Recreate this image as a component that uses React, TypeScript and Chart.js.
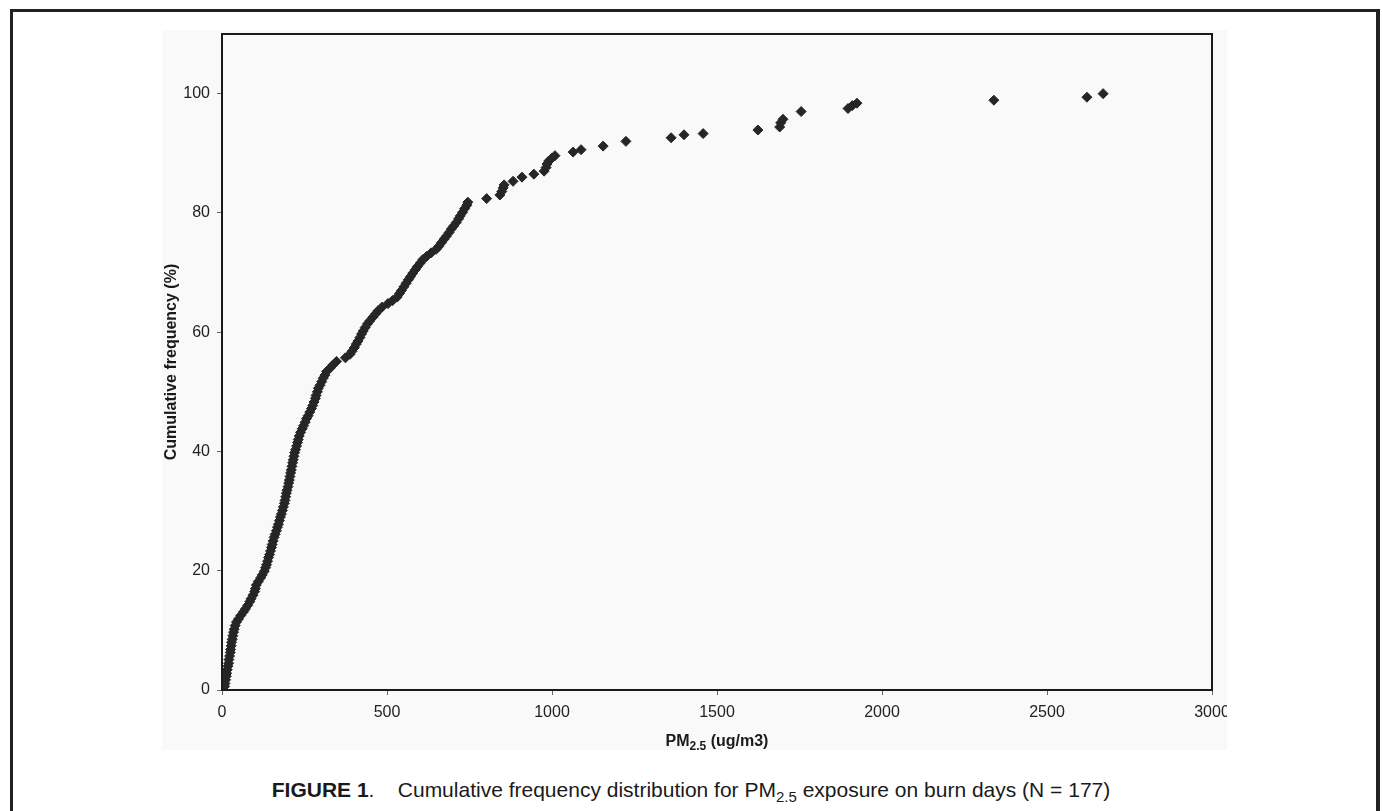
import React, { useEffect, useRef } from "react";
import { Chart, registerables } from "chart.js";

Chart.register(...registerables);

// PM2.5 exposure (ug/m3), sorted ascending
const pmValues: number[] = [
  2, 8, 9, 11, 13, 14, 16, 18, 20, 21,
  23, 25, 26, 28, 29, 31, 33, 35, 37, 40,
  44, 50, 57, 65, 71, 78, 84, 88, 94, 99,
  101, 104, 110, 117, 122, 128, 132, 135, 138, 141,
  144, 147, 150, 152, 155, 158, 161, 165, 168, 171,
  174, 177, 180, 183, 186, 189, 191, 193, 195, 197,
  200, 202, 204, 206, 208, 210, 212, 214, 216, 218,
  220, 223, 226, 229, 231, 234, 238, 243, 247, 252,
  256, 261, 266, 271, 275, 279, 283, 285, 289, 292,
  297, 302, 307, 312, 317, 328, 336, 347, 374, 388,
  394, 401, 407, 412, 418, 423, 428, 434, 441, 448,
  457, 466, 473, 485, 503, 517, 531, 538, 544, 551,
  558, 565, 571, 578, 586, 592, 601, 609, 620, 634,
  649, 657, 665, 673, 680, 688, 695, 702, 710, 717,
  722, 729, 735, 742, 745,
  802, 842, 848, 852, 855, 882, 909, 945, 976, 982,
  985, 990, 1000, 1009, 1064, 1088, 1155, 1224, 1361, 1400,
  1458, 1624, 1690, 1693, 1700, 1755, 1897, 1910, 1924, 2339,
  2621, 2670,
];

// Cumulative frequency (%)
const cumFreq: number[] = [
  0, 0.6, 1.1, 1.7, 2.3, 2.8, 3.4, 4.0, 4.5, 5.1,
  5.7, 6.3, 6.8, 7.4, 8.0, 8.5, 9.1, 9.7, 10.2, 10.8,
  11.4, 11.9, 12.5, 13.1, 13.6, 14.2, 14.8, 15.3, 15.9, 16.5,
  17.0, 17.6, 18.2, 18.8, 19.3, 19.9, 20.5, 21.0, 21.6, 22.2,
  22.7, 23.3, 23.9, 24.4, 25.0, 25.6, 26.1, 26.7, 27.3, 27.8,
  28.4, 29.0, 29.5, 30.1, 30.7, 31.3, 31.8, 32.4, 33.0, 33.5,
  34.1, 34.7, 35.2, 35.8, 36.4, 36.9, 37.5, 38.1, 38.6, 39.2,
  39.8, 40.3, 40.9, 41.5, 42.0, 42.6, 43.2, 43.8, 44.3, 44.9,
  45.5, 46.0, 46.6, 47.2, 47.7, 48.3, 48.9, 49.4, 50.0, 50.6,
  51.1, 51.7, 52.3, 52.8, 53.4, 54.0, 54.5, 55.1, 55.7, 56.3,
  56.8, 57.4, 58.0, 58.5, 59.1, 59.7, 60.2, 60.8, 61.4, 61.9,
  62.5, 63.1, 63.6, 64.2, 64.8, 65.3, 65.9, 66.5, 67.0, 67.6,
  68.2, 68.8, 69.3, 69.9, 70.5, 71.0, 71.6, 72.2, 72.7, 73.3,
  73.9, 74.4, 75.0, 75.6, 76.1, 76.7, 77.3, 77.8, 78.4, 79.0,
  79.5, 80.1, 80.7, 81.3, 81.8,
  82.4, 83.0, 83.6, 84.2, 84.7, 85.3, 86.0, 86.5, 87.0, 87.6,
  88.2, 88.7, 89.2, 89.6, 90.2, 90.6, 91.2, 92.0, 92.6, 93.1,
  93.3, 93.9, 94.4, 95.1, 95.7, 97.0, 97.5, 98.0, 98.4, 98.9,
  99.4, 100,
];

const xTickValues: number[] = [0, 500, 1000, 1500, 2000, 2500, 3000];
const yTickValues: number[] = [0, 20, 40, 60, 80, 100];

const FONT = "'Liberation Sans', Arial, Helvetica, sans-serif";

const framePlugin = {
  id: "plotFrame",
  afterDatasetsDraw(chart: any) {
    const { ctx, chartArea } = chart;
    ctx.save();
    ctx.strokeStyle = "#1a1a1a";
    ctx.lineWidth = 2;
    ctx.strokeRect(chartArea.left, chartArea.top, chartArea.right - chartArea.left, chartArea.bottom - chartArea.top);
    ctx.restore();
  },
};

const xTitlePlugin = {
  id: "xTitleSub",
  afterDraw(chart: any) {
    const { ctx, chartArea } = chart;
    const big = `bold 16px ${FONT}`;
    const small = `bold 12px ${FONT}`;
    const parts = [
      { t: "PM", f: big, dy: 0 },
      { t: "2.5", f: small, dy: 4 },
      { t: " (ug/m3)", f: big, dy: 0 },
    ];
    ctx.save();
    let total = 0;
    const widths = parts.map((p) => {
      ctx.font = p.f;
      const w = ctx.measureText(p.t).width;
      total += w;
      return w;
    });
    let x = (chartArea.left + chartArea.right) / 2 - total / 2;
    const baseY = chartArea.bottom + 56;
    ctx.fillStyle = "#1a1a1a";
    ctx.textBaseline = "alphabetic";
    ctx.textAlign = "left";
    parts.forEach((p, i) => {
      ctx.font = p.f;
      ctx.fillText(p.t, x, baseY + p.dy);
      x += widths[i];
    });
    ctx.restore();
  },
};

function ChartPanel() {
  const ref = useRef<HTMLCanvasElement | null>(null);
  useEffect(() => {
    if (!ref.current) return;
    const points = pmValues.map((x, i) => ({ x, y: cumFreq[i] }));
    const chart = new Chart(ref.current, {
      type: "scatter",
      data: {
        datasets: [
          {
            label: "Cumulative frequency",
            data: points,
            pointStyle: "rectRot",
            pointRadius: 5,
            borderWidth: 1,
            backgroundColor: "#262626",
            borderColor: "#262626",
          },
        ],
      },
      options: {
        animation: false,
        responsive: false,
        maintainAspectRatio: false,
        layout: { padding: { top: 0, right: 15, left: 0, bottom: 0 } },
        plugins: {
          legend: { display: false },
          tooltip: { enabled: false },
        },
        scales: {
          x: {
            type: "linear",
            min: 0,
            max: 3000,
            afterBuildTicks: (scale: any) => {
              scale.ticks = xTickValues.map((v) => ({ value: v }));
            },
            afterFit: (scale: any) => {
              scale.height = 60;
              scale.paddingLeft = 0;
              scale.paddingRight = 0;
            },
            ticks: {
              font: { family: FONT, size: 16 },
              color: "#222",
              padding: 8,
              maxRotation: 0,
              callback: (v: any) => String(v),
            },
            grid: {
              display: true,
              drawOnChartArea: false,
              drawTicks: true,
              tickLength: 5,
              color: "#666",
            },
            border: { display: true, color: "#1a1a1a", width: 2 },
          },
          y: {
            type: "linear",
            min: 0,
            max: 110,
            afterBuildTicks: (scale: any) => {
              scale.ticks = yTickValues.map((v) => ({ value: v }));
            },
            afterFit: (scale: any) => {
              scale.width = 60;
              scale.paddingTop = 0;
              scale.paddingBottom = 0;
            },
            ticks: {
              font: { family: FONT, size: 16 },
              color: "#222",
              padding: 7,
              callback: (v: any) => String(v),
            },
            grid: {
              display: true,
              drawOnChartArea: false,
              drawTicks: true,
              tickLength: 5,
              color: "#666",
            },
            border: { display: true, color: "#1a1a1a", width: 2 },
            title: {
              display: true,
              text: "Cumulative frequency (%)",
              font: { family: FONT, size: 16, weight: "bold" },
              color: "#1a1a1a",
              padding: 0,
            },
          },
        },
      },
      plugins: [framePlugin, xTitlePlugin],
    });
    return () => chart.destroy();
  }, []);
  return <canvas ref={ref} width={1065} height={722} style={{ display: "block", width: 1065, height: 722 }} />;
}

export default function App() {
  return (
    <div style={{ position: "absolute", left: 0, top: 0, width: 1382, height: 811, overflow: "hidden", background: "#fff" }}>
      <div
        style={{
          position: "absolute",
          left: 10,
          top: 9,
          width: 1370,
          height: 830,
          boxSizing: "border-box",
          border: "3px solid #222",
          borderRightWidth: 4,
        }}
      />
      <div style={{ position: "absolute", left: 162, top: 30, width: 1065, height: 720, background: "#f9f9f9" }} />
      <div style={{ position: "absolute", left: 162, top: 28, width: 1065, height: 722, overflow: "hidden" }}>
        <ChartPanel />
      </div>
      <div
        style={{
          position: "absolute",
          left: 0,
          top: 779,
          width: 1382,
          textAlign: "center",
          fontFamily: FONT,
          fontSize: 21,
          lineHeight: "21px",
          color: "#1a1a1a",
          whiteSpace: "pre",
        }}
      >
        <b>FIGURE 1</b>.{"    "}Cumulative frequency distribution for PM
        <sub style={{ fontSize: 15, lineHeight: 0 }}>2.5</sub> exposure on burn days (N = 177)
      </div>
    </div>
  );
}
